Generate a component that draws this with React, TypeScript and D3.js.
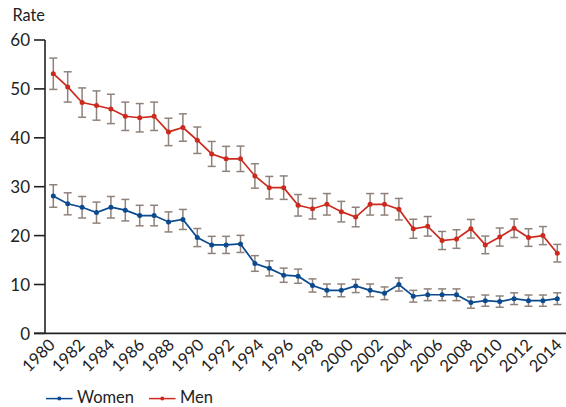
import React from "react";
import * as d3 from "d3";

const years: number[] = [
  1980, 1981, 1982, 1983, 1984, 1985, 1986, 1987, 1988, 1989,
  1990, 1991, 1992, 1993, 1994, 1995, 1996, 1997, 1998, 1999,
  2000, 2001, 2002, 2003, 2004, 2005, 2006, 2007, 2008, 2009,
  2010, 2011, 2012, 2013, 2014, 2015,
];

const menRate: number[] = [
  53.1, 50.4, 47.2, 46.6, 45.9, 44.4, 44.1, 44.4, 41.2, 42.1,
  39.5, 36.7, 35.7, 35.7, 32.2, 29.8, 29.8, 26.2, 25.5, 26.4,
  24.9, 23.8, 26.4, 26.4, 25.4, 21.4, 21.9, 19.0, 19.3, 21.4,
  18.1, 19.7, 21.5, 19.6, 20.0, 16.4,
];

const menErr: number[] = [
  3.2, 3.1, 3.0, 3.0, 3.0, 2.9, 2.9, 2.9, 2.8, 2.8,
  2.7, 2.55, 2.55, 2.6, 2.5, 2.3, 2.4, 2.2, 2.1, 2.2,
  2.1, 2.0, 2.2, 2.2, 2.2, 1.95, 2.0, 1.85, 1.9, 1.9,
  1.8, 1.85, 1.9, 1.8, 1.85, 1.8,
];

const womenRate: number[] = [
  28.1, 26.5, 25.8, 24.7, 25.8, 25.2, 24.1, 24.1, 22.8, 23.3,
  19.6, 18.1, 18.1, 18.3, 14.3, 13.3, 11.9, 11.7, 9.8, 8.8,
  8.8, 9.7, 8.8, 8.2, 10.0, 7.6, 7.9, 7.9, 7.9, 6.3,
  6.7, 6.5, 7.1, 6.7, 6.7, 7.1,
];

const womenErr: number[] = [
  2.3, 2.25, 2.2, 2.15, 2.2, 2.2, 2.1, 2.1, 2.05, 2.05,
  1.85, 1.75, 1.75, 1.75, 1.6, 1.55, 1.45, 1.45, 1.35, 1.3,
  1.3, 1.35, 1.3, 1.3, 1.35, 1.2, 1.2, 1.2, 1.2, 1.15,
  1.15, 1.15, 1.2, 1.15, 1.15, 1.2,
];

const yTicks: number[] = [0, 10, 20, 30, 40, 50, 60];
const xTickLabels: number[] = [
  1980, 1982, 1984, 1986, 1988, 1990, 1992, 1994, 1996,
  1998, 2000, 2002, 2004, 2006, 2008, 2010, 2012, 2014,
];

const seriesNames = ["Women", "Men"];
const seriesColors = ["#0b4a8e", "#cc2a1f"];
const errColor = "#8a7c74";
const FONT = "Lato, 'Open Sans', sans-serif";

export default function App() {
  const W = 566;
  const H = 407;
  const x = d3.scaleLinear().domain([1980, 2015]).range([53.3, 557.3]);
  const xLab = d3.scaleLinear().domain([1980, 2014]).range([56, 563]);
  const y = d3.scaleLinear().domain([0, 60]).range([333.4, 40]);
  const axisX = 45;

  const series = [
    { name: seriesNames[0], color: seriesColors[0], vals: womenRate, err: womenErr },
    { name: seriesNames[1], color: seriesColors[1], vals: menRate, err: menErr },
  ];

  const line = d3
    .line<number>()
    .x((_, i) => x(years[i]))
    .y((d) => y(d));

  return (
    <svg
      width={W}
      height={H}
      style={{ position: "absolute", left: 0, top: 0, background: "#fff" }}
      fontFamily={FONT}
    >
      <text x={12.5} y={21} fontSize={16.3} fill="#222">Rate</text>

      {/* y axis */}
      <line x1={axisX} x2={axisX} y1={y(60)} y2={y(0)} stroke="#222" strokeWidth={1.6} />
      {yTicks.map((t) => (
        <g key={t}>
          <line x1={34} x2={axisX} y1={y(t)} y2={y(t)} stroke="#222" strokeWidth={1.6} />
          <text x={30} y={y(t)} dy="0.36em" textAnchor="end" fontSize={17} fill="#222">
            {t}
          </text>
        </g>
      ))}
      {/* x axis */}
      <line x1={34} x2={W} y1={y(0)} y2={y(0)} stroke="#222" strokeWidth={1.8} />
      {xTickLabels.map((yr) => (
        <text
          key={yr}
          transform={`translate(${xLab(yr)},346) rotate(-45)`}
          textAnchor="end"
          fontSize={16.5}
          fill="#222"
        >
          {yr}
        </text>
      ))}

      {/* error bars */}
      {series.map((s) => (
        <g key={s.name + "err"} stroke={errColor} strokeWidth={1.5} opacity={0.95}>
          {s.vals.map((v, i) => {
            const cx = x(years[i]);
            const top = y(v + s.err[i]);
            const bot = y(v - s.err[i]);
            return (
              <g key={i}>
                <line x1={cx} x2={cx} y1={top} y2={bot} />
                <line x1={cx - 4} x2={cx + 4} y1={top} y2={top} />
                <line x1={cx - 4} x2={cx + 4} y1={bot} y2={bot} />
              </g>
            );
          })}
        </g>
      ))}

      {/* lines and points */}
      {series.map((s) => (
        <g key={s.name}>
          <path d={line(s.vals) || ""} fill="none" stroke={s.color} strokeWidth={1.7} />
          {s.vals.map((v, i) => (
            <circle key={i} cx={x(years[i])} cy={y(v)} r={2.5} fill={s.color} />
          ))}
        </g>
      ))}

      {/* legend */}
      {series.map((s, i) => {
        const lx = i === 0 ? 46 : 149;
        return (
          <g key={s.name + "leg"}>
            <line x1={lx} x2={lx + 26.5} y1={398.6} y2={398.6} stroke={s.color} strokeWidth={1.5} />
            <circle cx={lx + 13.3} cy={398.6} r={2} fill={s.color} />
            <text x={lx + 31} y={403.4} fontSize={16.5} fill="#222">
              {s.name}
            </text>
          </g>
        );
      })}
    </svg>
  );
}
